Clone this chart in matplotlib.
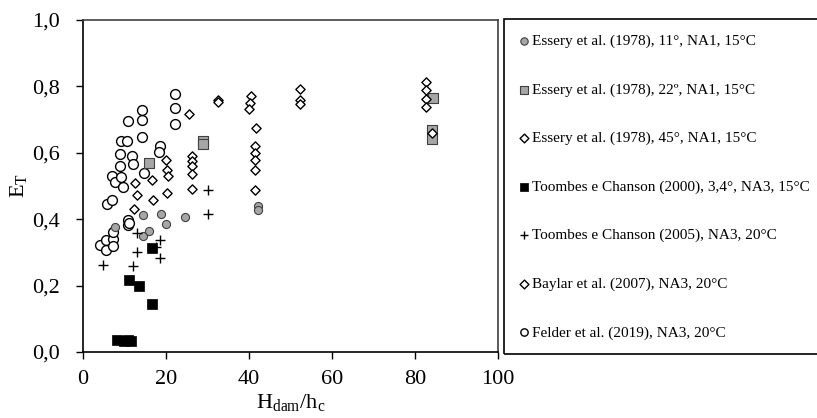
import matplotlib
matplotlib.use('Agg')
import matplotlib.pyplot as plt
from matplotlib.patches import Rectangle
from matplotlib.ticker import FuncFormatter

plt.rcParams['font.family'] = ['Liberation Serif', 'DejaVu Serif']
plt.rcParams['mathtext.fontset'] = 'custom'
plt.rcParams['mathtext.rm'] = 'Liberation Serif'
plt.rcParams['mathtext.it'] = 'Liberation Serif:italic'

# Essery et al. (1978), 11 deg
ess11_x = [7.7, 14.5, 14.4, 16.0, 18.7, 19.9, 24.6, 42.2, 42.2]
ess11_y = [0.377, 0.412, 0.349, 0.365, 0.417, 0.387, 0.407, 0.439, 0.427]

# Essery et al. (1978), 22 deg
ess22_x = [15.9, 29.0, 29.0, 84.3, 84.0, 84.0]
ess22_y = [0.569, 0.636, 0.628, 0.765, 0.668, 0.643]

# Essery et al. (1978), 45 deg
ess45_x = [25.5, 26.2, 26.2, 26.2, 26.2, 26.2, 32.6, 32.6, 40.4, 40.2, 40.1,
           41.7, 41.4, 41.4, 41.4, 41.4, 41.4, 52.4, 52.3, 52.3,
           82.7, 82.7, 82.7, 82.7, 84.0]
ess45_y = [0.718, 0.591, 0.575, 0.560, 0.537, 0.490, 0.758, 0.752, 0.770, 0.750, 0.733,
           0.676, 0.620, 0.598, 0.577, 0.549, 0.487, 0.793, 0.758, 0.746,
           0.813, 0.788, 0.763, 0.738, 0.661]

# Toombes e Chanson (2000)
tc00_x = [11.0, 13.4, 16.6, 16.6, 8.3, 9.8, 10.8, 11.6]
tc00_y = [0.216, 0.199, 0.145, 0.312, 0.035, 0.032, 0.036, 0.034]

# Toombes e Chanson (2005)
tc05_x = [4.9, 12.1, 12.9, 13.1, 18.6, 18.6, 17.7, 30.0, 30.0]
tc05_y = [0.262, 0.259, 0.302, 0.357, 0.336, 0.284, 0.317, 0.417, 0.489]

# Baylar et al. (2007)
bay_x = [12.3, 12.5, 12.9, 16.7, 16.8, 19.9, 20.2, 20.4, 20.3]
bay_y = [0.430, 0.509, 0.472, 0.517, 0.457, 0.577, 0.549, 0.530, 0.479]

# Felder et al. (2019)
fel_x = [4.0, 5.5, 5.5, 7.3, 7.3, 7.3, 10.9, 10.9, 11.1,
         5.9, 7.1, 6.9, 7.7, 9.1, 9.6, 8.9, 8.8, 9.1, 10.7, 10.8, 11.8, 12.0,
         14.1, 14.1, 14.1, 14.8, 18.6, 18.4, 22.2, 22.2, 22.2]
fel_y = [0.322, 0.338, 0.308, 0.339, 0.319, 0.360, 0.397, 0.382, 0.389,
         0.447, 0.459, 0.529, 0.512, 0.527, 0.497, 0.559, 0.596, 0.636, 0.636, 0.696, 0.589, 0.565,
         0.728, 0.698, 0.647, 0.539, 0.620, 0.602, 0.778, 0.736, 0.688]

labels = ['Essery et al. (1978), 11°, NA1, 15°C',
          'Essery et al. (1978), 22º, NA1, 15°C',
          'Essery et al. (1978), 45°, NA1, 15°C',
          'Toombes e Chanson (2000), 3,4°, NA3, 15°C',
          'Toombes e Chanson (2005), NA3, 20°C',
          'Baylar et al. (2007), NA3, 20°C',
          'Felder et al. (2019), NA3, 20°C']

fig = plt.figure(figsize=(8.17, 4.18), dpi=100)
ax = fig.add_axes([83 / 817, 1 - 352 / 418, 415 / 817, 332 / 418])

gray = '#a6a6a6'
h = []
h.append(ax.scatter(ess11_x, ess11_y, s=34, marker='o', facecolor=gray, edgecolor='#404040', linewidth=0.8, zorder=3))
h.append(ax.scatter(ess22_x, ess22_y, s=60, marker='s', facecolor=gray, edgecolor='#404040', linewidth=0.8, zorder=3))
h.append(ax.scatter(ess45_x, ess45_y, s=22, marker='D', facecolor='white', edgecolor='black', linewidth=1.0, zorder=4))
h.append(ax.scatter(tc00_x, tc00_y, s=58, marker='s', facecolor='black', edgecolor='black', linewidth=0.5, zorder=3))
h.append(ax.scatter(tc05_x, tc05_y, s=60, marker='+', color='black', linewidth=1.0, zorder=3))
h.append(ax.scatter(bay_x, bay_y, s=22, marker='D', facecolor='white', edgecolor='black', linewidth=1.0, zorder=4))
h.append(ax.scatter(fel_x, fel_y, s=50, marker='o', facecolor='white', edgecolor='black', linewidth=1.0, zorder=2))

ax.set_xlim(0, 100)
ax.set_ylim(0, 1.0)
ax.set_xticks([0, 20, 40, 60, 80, 100])
ax.set_yticks([0, 0.2, 0.4, 0.6, 0.8, 1.0])
ax.yaxis.set_major_formatter(FuncFormatter(lambda v, p: ('%.1f' % v).replace('.', ',')))
ax.tick_params(direction='out', length=5, width=1, labelsize=16)
ax.tick_params(axis='y', pad=12)
ax.tick_params(axis='x', pad=8)
for sp in ['left', 'bottom']:
    ax.spines[sp].set_color('black')
    ax.spines[sp].set_linewidth(1.2)
for sp in ['top', 'right']:
    ax.spines[sp].set_color('#404040')
    ax.spines[sp].set_linewidth(1.2)

ax.set_xlabel(r'H$_{\mathrm{dam}}$/h$_{\mathrm{c}}$', fontsize=16, labelpad=2)
ax.set_ylabel(r'E$_{\mathrm{T}}$', fontsize=16, labelpad=2)

# legend box
fig.add_artist(Rectangle((504 / 817, 1 - 354 / 418), 1 - 504 / 817 + 0.01, 335 / 418,
                         transform=fig.transFigure, facecolor='none', edgecolor='black', linewidth=1.2))
leg = fig.legend(h, labels, loc='center left', bbox_to_anchor=(519 / 817, 1 - 187 / 418),
                 frameon=False, fontsize=11, handlelength=0.7, handletextpad=0.15,
                 labelspacing=2.27, borderpad=0, borderaxespad=0)
leg_sizes = [28, 32, 20, 32, 36, 20, 28]
for lh, sz in zip(leg.legend_handles, leg_sizes):
    lh.set_sizes([sz])

plt.savefig('out.png', dpi=100)
